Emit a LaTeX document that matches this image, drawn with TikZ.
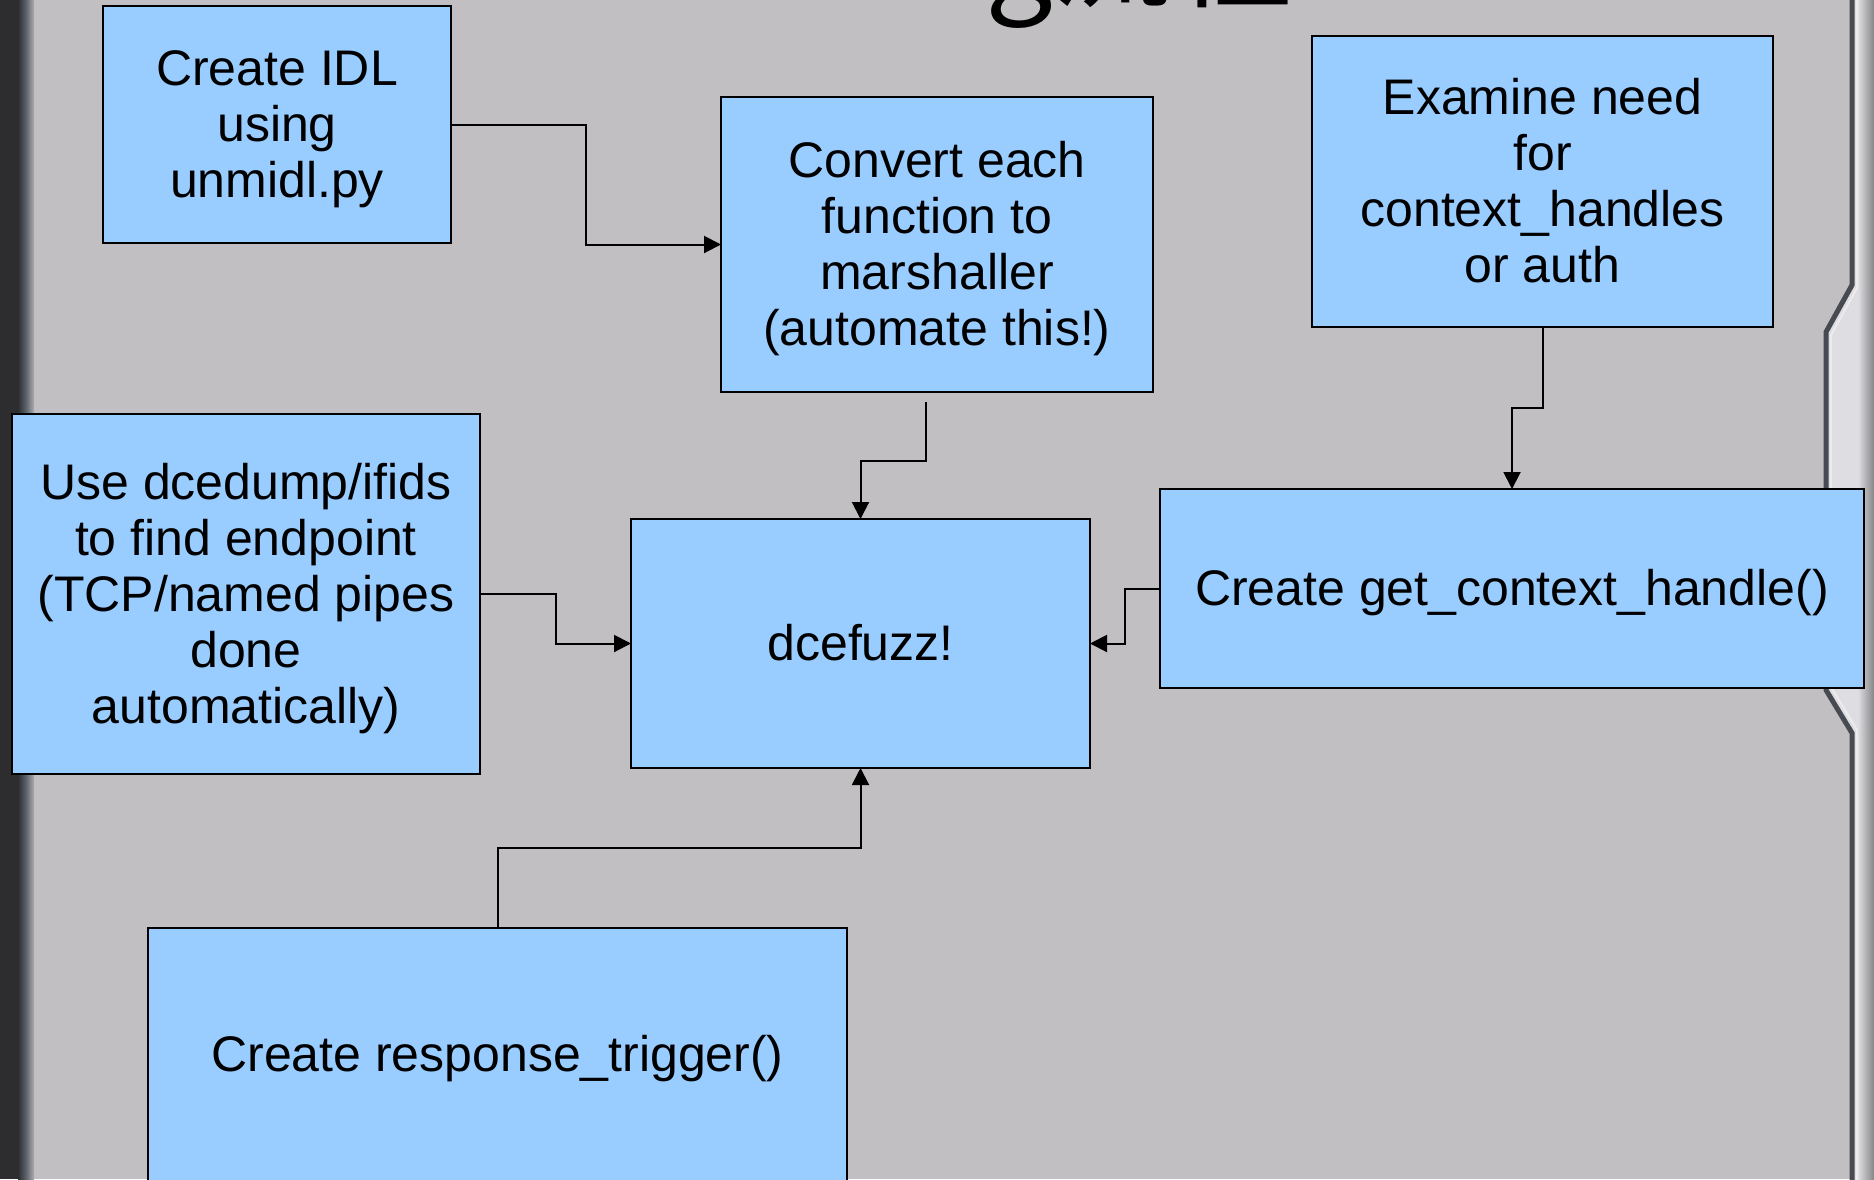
\documentclass[tikz,border=0pt]{standalone}
\usepackage{fontspec}
\setmainfont{Liberation Sans}
\newfontfamily\cjk{Noto Sans CJK SC}
\usetikzlibrary{arrows.meta}
\definecolor{bggray}{RGB}{193,191,193}
\definecolor{boxblue}{RGB}{153,204,255}
\definecolor{darkstrip}{RGB}{45,45,47}
\definecolor{bluestrip}{RGB}{92,100,108}
\definecolor{metal}{RGB}{222,222,226}
\definecolor{metaldark}{RGB}{72,74,82}
\newcommand\boxstrut{\rule[-11pt]{0pt}{56pt}}
\tikzset{
  stepbox/.style={draw=black, line width=2pt, fill=boxblue, inner sep=0pt, outer sep=0pt,
    align=center, font=\fontsize{50}{56}\selectfont,
    execute at end node=\boxstrut},
  conn/.style={draw=black, line width=2pt, -{Triangle[length=17pt,width=17pt]}},
}
\begin{document}
\begin{tikzpicture}[x=1pt,y=-1pt]
\useasboundingbox (0,0) rectangle (1874,1179);
% background
\fill[bggray] (0,0) rectangle (1874,1179);
\fill[darkstrip] (0,0) rectangle (24,1179);
\shade[left color=darkstrip, right color=bluestrip] (18,0) rectangle (26,1179);
\shade[left color=bluestrip, right color=bggray!90!black] (26,0) rectangle (34,1179);
% right metal strip
\fill[metal] (1850,-2) -- (1850,285) -- (1824,332) -- (1824,690) -- (1850,733) -- (1850,1181) -- (1876,1181) -- (1876,-2) -- cycle;
\shade[left color=metal, right color=metal!55!black] (1858,-2) rectangle (1876,1181);
\draw[metaldark, line width=5pt] (1852,-2) -- (1852,285) -- (1826,332) -- (1826,690) -- (1852,733) -- (1852,1181);
\draw[white!85!gray, line width=2pt] (1857,-2) -- (1857,288) -- (1831,335) -- (1831,687) -- (1857,730) -- (1857,1181);
% title fragment (clipped at top)
\node[anchor=base west, inner sep=0pt, font=\cjk\fontsize{120}{130}\selectfont] (title) at (985,-2) {g流程};
% boxes
\node[stepbox, minimum width=348pt, minimum height=237pt] (A) at (277,124.5) {\boxstrut Create IDL\\using\\unmidl.py};
\node[stepbox, minimum width=432pt, minimum height=295pt] (B) at (937,244.5) {\boxstrut Convert each\\function to\\marshaller\\(automate this!)};
\node[stepbox, minimum width=461pt, minimum height=291pt] (C) at (1542.5,181.5) {\boxstrut Examine need\\for\\context\_handles\\or auth};
\node[stepbox, minimum width=468pt, minimum height=360pt] (D) at (246,594) {\boxstrut Use dcedump/ifids\\to find endpoint\\(TCP/named pipes\\done\\automatically)};
\node[stepbox, minimum width=459pt, minimum height=249pt] (E) at (860.5,643.5) {\boxstrut dcefuzz!};
\node[stepbox, minimum width=704pt, minimum height=199pt] (F) at (1512,588.5) {\boxstrut Create get\_context\_handle()};
\node[stepbox, minimum width=699pt, minimum height=253pt] (G) at (497.5,1054.5) {\boxstrut Create response\_trigger()};
% connectors
\coordinate (bstart) at (926,402);
\draw[conn] (A.east) -- (586,124.5) |- (B.west);
\draw[conn] (bstart) -- (926,461) -| (E.north);
\draw[conn] (C.south) -- (1542.5,408) -| (F.north);
\draw[conn] (D.east) -- (556,594) |- (E.west);
\draw[conn] (F.west) -- (1125,588.5) |- (E.east);
\draw[conn] (G.north) -- (497.5,848) -| (E.south);
\end{tikzpicture}
\end{document}
